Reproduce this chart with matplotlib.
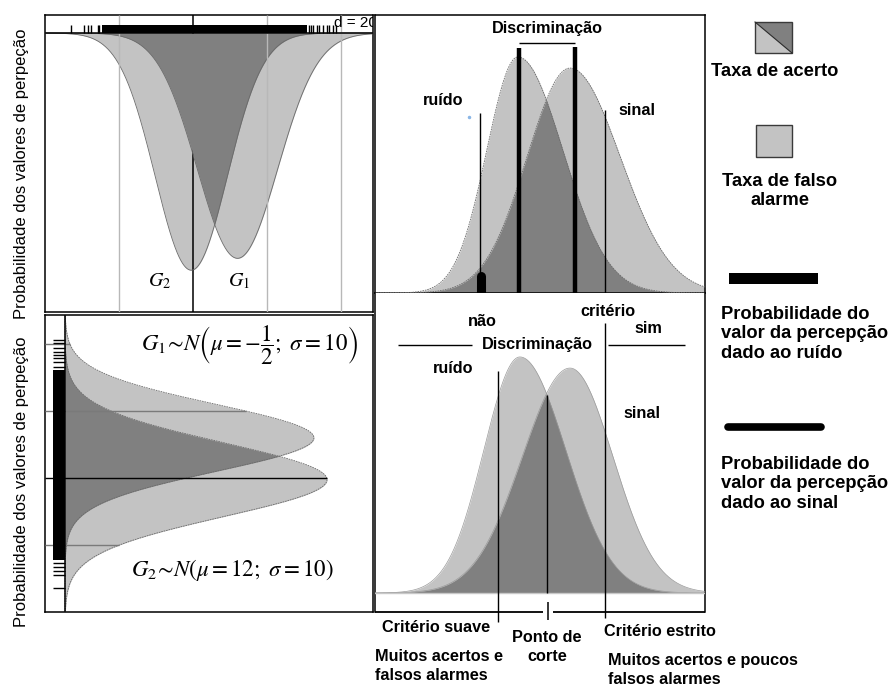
import numpy as np
import matplotlib
matplotlib.use("Agg")
import matplotlib.pyplot as plt
from matplotlib.patches import Rectangle, Polygon

plt.rcParams['font.family'] = ['Liberation Sans', 'DejaVu Sans']
plt.rcParams['mathtext.fontset'] = 'stix'

W, H = 893, 688

# ---------------- data ----------------
# Left panels: perception-value distributions (left/lower curve, right/upper curve)
dist_means = [-0.5, 12.0]
dist_peaks = [0.040, 0.038]
sd_top = [9.7, 10.8]          # spread seen in the top-left panel
sd_side = [11.0, 10.0]        # spread seen in the bottom-left panel
grid_vals = [-20, 0, 20, 40]
value_range = (-40.0, 48.6)

rug_top_sparse = [-33.0, -29.4, -28.5, -27.6, -25.8, -25.3,
                  31.2, 31.8, 32.5, 33.4, 34.1, 35.2, 36.1, 36.8, 37.9, 38.5]
rug_top_dense = (-24.7, 30.7)
rug_side_sparse = [41.2, 40.3, 38.8, 37.6, 36.7, 35.8, 34.6, 33.1,
                   -25.4, -26.6, -27.8, -29.0, -32.8]
rug_side_dense = (-24.5, 32.2)

# Right panels: noise ("ruído") and signal ("sinal") curves, x on a 0-100 scale
sdt_means_top = [43.3, 59.1]
sdt_sd_left_top = [9.4, 13.0]
sdt_sd_right_top = [13.6, 15.2]
sdt_means_bot = [43.9, 59.1]
sdt_sd_left_bot = [10.9, 14.5]
sdt_sd_right_bot = [13.9, 13.0]
sdt_peaks = [0.849, 0.809]

crit_top = [31.8, 69.7]            # thin criterion lines, top-right
disc_top = [43.6, 60.5]            # thick discrimination lines, top-right
rug_sdt_sparse = [8.5, 13.3, 14.2, 14.8, 16.4, 17.0,
                  83.0, 83.9, 84.5, 86.4, 87.3, 87.9, 90.0, 90.6, 91.5, 92.1]
rug_sdt_dense = (17.6, 82.4)

crit_bot = [37.3, 52.1, 69.7]      # soft criterion, cut point, strict criterion

LIGHT = '#c3c3c3'
DARK = '#808080'
EDGE = '#6a6a6a'

fig = plt.figure(figsize=(W / 100, H / 100), dpi=100)


def px_axes(x0, y0, x1, y1):
    return fig.add_axes([x0 / W, 1 - y1 / H, (x1 - x0) / W, (y1 - y0) / H])


def curve(x, mu, peak, sl, sr):
    s = np.where(x < mu, sl, sr)
    return peak * np.exp(-0.5 * ((x - mu) / s) ** 2)


def frame(ax, lw=1.1):
    ax.set_xticks([])
    ax.set_yticks([])
    for sp in ax.spines.values():
        sp.set_linewidth(lw)
        sp.set_color('black')


bold = dict(fontweight='bold', fontsize=11.7, color='black')
lbold = dict(fontweight='bold', fontsize=13.2, color='black')

# ---------------- panel A (top-left) ----------------
axA = px_axes(45, 15, 373, 312)
yA_bot, yA_top = 0.04705, -0.00304
axA.set_xlim(*value_range)
axA.set_ylim(yA_bot, yA_top)
xv = np.linspace(value_range[0], value_range[1], 900)
fA = [curve(xv, m, p, s, s) for m, p, s in zip(dist_means, dist_peaks, sd_top)]
for f in fA:
    axA.fill_between(xv, 0, f, color=LIGHT, lw=0, zorder=1)
axA.vlines(0, yA_top, yA_bot, color='black', lw=1.1, zorder=2)
axA.fill_between(xv, 0, np.minimum(*fA), color=DARK, lw=0, zorder=3)
for f in fA:
    axA.plot(xv, f, color=EDGE, lw=0.6, zorder=4)
axA.vlines([g for g in grid_vals if g != 0], yA_top, yA_bot, color='#b8b8b8', lw=1.0, zorder=5)
axA.axhline(0, color='black', lw=1.1, zorder=6)
rug_h = -0.00135
axA.vlines(rug_top_sparse, rug_h, 0, color='black', lw=1.0, zorder=7)
axA.fill_between(list(rug_top_dense), rug_h, 0, color='black', lw=0, zorder=7)
axA.text(-8.9, 0.0418, r'$G_2$', fontsize=14.5, ha='center', va='center', zorder=8)
axA.text(12.4, 0.0418, r'$G_1$', fontsize=14.5, ha='center', va='center', zorder=8)
axA.text(38.0, -0.0017, 'd = 20', fontsize=11, ha='left', va='center', clip_on=True, zorder=8)
frame(axA)

# ---------------- panel B (bottom-left) ----------------
axB = px_axes(45, 315, 373, 612)
xB_left, xB_right = -0.00305, 0.04702
axB.set_xlim(xB_left, xB_right)
axB.set_ylim(-40.0, 48.66)
fB = [curve(xv, m, p, s, s) for m, p, s in zip(dist_means, dist_peaks, sd_side)]
for f in fB:
    axB.fill_betweenx(xv, 0, f, color=LIGHT, lw=0, zorder=1)
axB.fill_betweenx(xv, 0, np.minimum(*fB), color=DARK, lw=0, zorder=2)
for f in fB:
    axB.plot(f, xv, color=EDGE, lw=0.6, ls=(0, (2, 1)), zorder=3)
for g in grid_vals:
    reach = max(curve(np.array([g]), m, p, s, s)[0] for m, p, s in zip(dist_means, dist_peaks, sd_side))
    axB.hlines(g, xB_left, reach, color='black' if g == 0 else '#7a7a7a', lw=1.0, zorder=4)
axB.axvline(0, color='black', lw=1.1, zorder=5)
rug_w = -0.00183
axB.hlines(rug_side_sparse, rug_w, 0, color='black', lw=1.0, zorder=6)
axB.fill_betweenx(list(rug_side_dense), rug_w, 0, color='black', lw=0, zorder=6)
axB.text(0.0282, 39.7, r'$G_1\!\sim\!N\left(\mu = -\dfrac{1}{2};\ \sigma = 10\right)$',
         fontsize=16.5, ha='center', va='center', zorder=8)
axB.text(0.0255, -27.5, r'$G_2\!\sim\!N(\mu = 12;\ \sigma = 10)$',
         fontsize=16.5, ha='center', va='center', zorder=8)
frame(axB)

# ---------------- panel C (top-right) ----------------
axC = px_axes(375, 15, 705, 293)
axC.set_xlim(0, 100)
axC.set_ylim(0, 1.0)
xs = np.linspace(0, 100, 900)
fC = [curve(xs, m, p, a, b) for m, p, a, b in
      zip(sdt_means_top, sdt_peaks, sdt_sd_left_top, sdt_sd_right_top)]
for f in fC:
    axC.fill_between(xs, 0, f, color=LIGHT, lw=0, zorder=1)
axC.fill_between(xs, 0, np.minimum(*fC), color=DARK, lw=0, zorder=2)
for f in fC:
    axC.plot(xs, f, color=EDGE, lw=0.6, ls=(0, (2, 1)), zorder=3)
axC.vlines(disc_top, 0, [0.881, 0.885], color='black', lw=3.2, zorder=5)
axC.hlines(0.899, disc_top[0], disc_top[1], color='black', lw=1.0, zorder=5)
axC.vlines(crit_top, 0, [0.647, 0.658], color='black', lw=1.0, zorder=5)
axC.plot([crit_top[0] + 0.3, crit_top[0] + 0.3], [0, 0.062], color='black', lw=6.5,
         solid_capstyle='round', zorder=6)
axC.plot([crit_top[0] + 0.3, crit_top[0] + 0.3], [0, 0.03], color='black', lw=6.5,
         solid_capstyle='butt', zorder=6)
axC.plot([28.5], [0.633], marker='o', ms=1.5, color='#8ab6e6', zorder=6)
rug_d = -0.0252
axC.vlines(rug_sdt_sparse, rug_d, 0, color='black', lw=1.0, zorder=7, clip_on=False)
axC.fill_between(list(rug_sdt_dense), rug_d, 0, color='black', lw=0, zorder=7, clip_on=False)
axC.text(52.1, 0.953, 'Discriminação', ha='center', va='center', **bold)
axC.text(20.6, 0.694, 'ruído', ha='center', va='center', **bold)
axC.text(79.4, 0.658, 'sinal', ha='center', va='center', **bold)
frame(axC)

# ---------------- panel D (bottom-right) ----------------
axD = px_axes(375, 293, 705, 612)
yD_bot, yD_top = -0.0683, 1.079
axD.set_xlim(0, 100)
axD.set_ylim(yD_bot, yD_top)
fD = [curve(xs, m, p, a, b) for m, p, a, b in
      zip(sdt_means_bot, sdt_peaks, sdt_sd_left_bot, sdt_sd_right_bot)]
for f in fD:
    axD.fill_between(xs, 0, f, color=LIGHT, lw=0, zorder=1)
axD.fill_between(xs, 0, np.minimum(*fD), color=DARK, lw=0, zorder=2)
for f in fD:
    axD.plot(xs, f, color='#9a9a9a', lw=0.5, zorder=3)
axD.axhline(0, color='#c8c8c8', lw=1.0, zorder=3)
cut_h = min(curve(np.array([crit_bot[1]]), m, p, a, b)[0] for m, p, a, b in
            zip(sdt_means_bot, sdt_peaks, sdt_sd_left_bot, sdt_sd_right_bot))
axD.vlines(crit_bot[0], -0.104, 0.799, color='black', lw=1.0, zorder=5, clip_on=False)
axD.vlines(crit_bot[1], 0, cut_h, color='black', lw=1.0, zorder=5)
axD.vlines(crit_bot[2], -0.090, 0.971, color='black', lw=1.0, zorder=5, clip_on=False)
axD.hlines([yD_bot, yD_bot], [0, 53.9], [50.9, 100], color='black', lw=1.3, zorder=6, clip_on=False)
axD.vlines(52.3, -0.0324, -0.097, color='black', lw=1.1, zorder=6, clip_on=False)
axD.hlines([0.892, 0.892], [7.0, 70.6], [29.4, 93.9], color='black', lw=1.0, zorder=5)
axD.text(49.1, 0.892, 'Discriminação', ha='center', va='center', **bold)
axD.text(32.4, 0.975, 'não', ha='center', va='center', **bold)
axD.text(70.6, 1.011, 'critério', ha='center', va='center', **bold)
axD.text(82.7, 0.950, 'sim', ha='center', va='center', **bold)
axD.text(23.6, 0.809, 'ruído', ha='center', va='center', **bold)
axD.text(80.9, 0.647, 'sinal', ha='center', va='center', **bold)
axD.set_xticks([])
axD.set_yticks([])
for k in ['top', 'bottom']:
    axD.spines[k].set_visible(False)
for k in ['left', 'right']:
    axD.spines[k].set_linewidth(1.1)

# ---------------- overlay: labels & legend ----------------
axL = fig.add_axes([0, 0, 1, 1], zorder=20)
axL.set_xlim(0, W)
axL.set_ylim(H, 0)
axL.axis('off')
axL.patch.set_alpha(0)

ylab = 'Probabilidade dos valores de perpeção'
axL.text(22, 174, ylab, rotation=90, ha='center', va='center', fontsize=12)
axL.text(22, 482, ylab, rotation=90, ha='center', va='center', fontsize=12)

axL.text(436, 628, 'Critério suave', ha='center', va='center', **bold)
axL.text(375, 666, 'Muitos acertos e\nfalsos alarmes', ha='left', va='center',
         linespacing=1.3, **bold)
axL.text(547, 647, 'Ponto de\ncorte', ha='center', va='center', linespacing=1.3, **bold)
axL.text(604, 632, 'Critério estrito', ha='left', va='center', **bold)
axL.text(608, 670, 'Muitos acertos e poucos\nfalsos alarmes', ha='left', va='center',
         linespacing=1.3, **bold)

# legend icons
axL.add_patch(Polygon([(755, 22), (755, 53), (792, 53)], closed=True, facecolor=LIGHT, edgecolor='none'))
axL.add_patch(Polygon([(755, 22), (792, 22), (792, 53)], closed=True, facecolor=DARK, edgecolor='none'))
axL.plot([755, 792], [22, 53], color='#2a2a2a', lw=0.8)
axL.add_patch(Rectangle((755, 22), 37, 31, facecolor='none', edgecolor='#3a3a3a', lw=1.0))
axL.text(775, 72, 'Taxa de acerto', ha='center', va='center', **lbold)

axL.add_patch(Rectangle((756, 125), 36, 32, facecolor=LIGHT, edgecolor='#3a3a3a', lw=1.0))
axL.text(780, 191, 'Taxa de falso\nalarme', ha='center', va='center', linespacing=1.2, **lbold)

axL.add_patch(Rectangle((729, 273), 89, 11, facecolor='black', edgecolor='none'))
axL.text(721, 334, 'Probabilidade do\nvalor da percepção\ndado ao ruído', ha='left', va='center',
         linespacing=1.2, **lbold)

axL.plot([728, 821], [427, 427], color='black', lw=5.5, solid_capstyle='round')
axL.text(721, 484, 'Probabilidade do\nvalor da percepção\ndado ao sinal', ha='left', va='center',
         linespacing=1.2, **lbold)

fig.savefig('out.png', dpi=100)
